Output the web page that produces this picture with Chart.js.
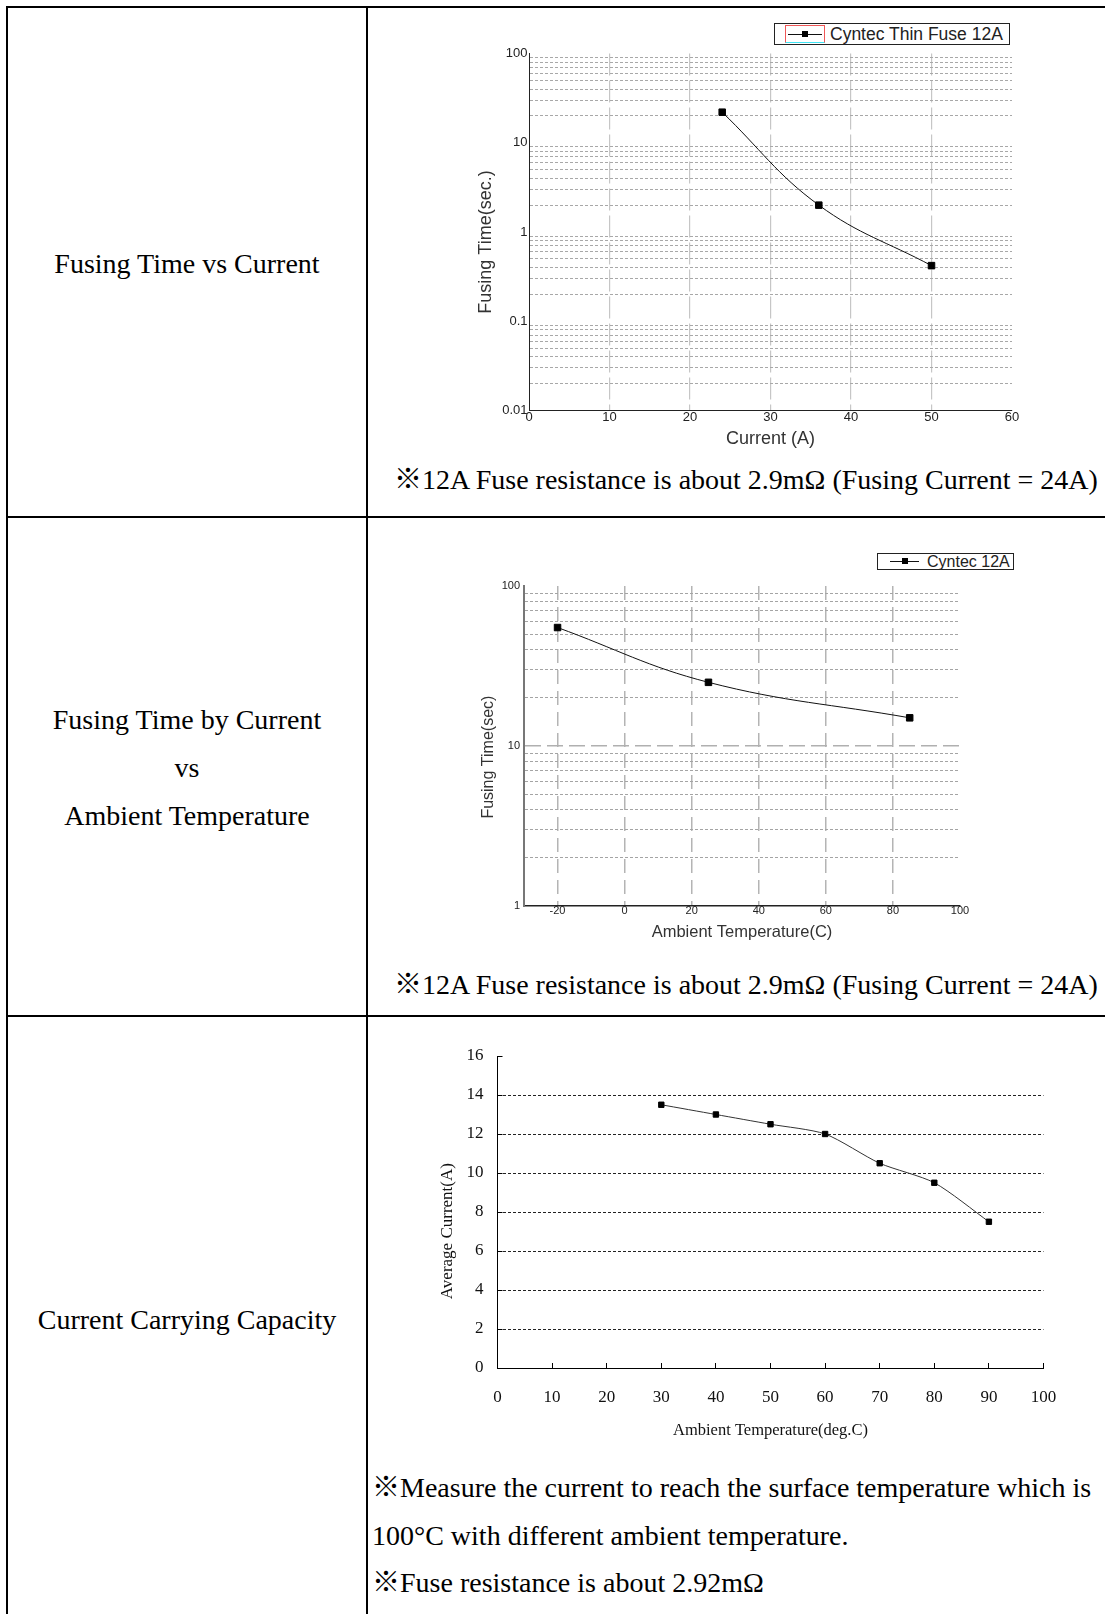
<!DOCTYPE html>
<html>
<head>
<meta charset="utf-8">
<title>Fuse characteristics</title>
<script src="https://cdn.jsdelivr.net/npm/chart.js@4.4.1/dist/chart.umd.min.js"></script>
<style>
  html, body { margin: 0; padding: 0; background: #fff; }
  body {
    width: 1105px; height: 1614px; position: relative; overflow: hidden;
    font-family: "Liberation Serif", "Noto Sans CJK TC", serif; color: #000;
  }
  .rule { position: absolute; background: #000; }
  .cap { position: absolute; font-size: 28px; line-height: 48px; white-space: nowrap; }
  .left { left: 8px; width: 358px; text-align: center; }
  .plot { position: absolute; }
  .legend {
    position: absolute; box-sizing: border-box; border: 1px solid #222; background: #fff;
    font-family: "Liberation Sans", Arial, sans-serif; color: #222; white-space: nowrap;
  }
  .legend .sym { position: absolute; }
  .legend .sym i { position: absolute; left: 0; right: 0; height: 1px; background: #111; }
  .legend .sym b { position: absolute; width: 6px; height: 6px; background: #000; }
  .legend span.txt { position: absolute; top: 0; }
</style>
</head>
<body>

<!-- table rules -->
<div class="rule" style="left:6px; top:6px; width:1099px; height:2px;"></div>
<div class="rule" style="left:6px; top:6px; width:2px; height:1608px;"></div>
<div class="rule" style="left:366px; top:6px; width:2px; height:1608px;"></div>
<div class="rule" style="left:6px; top:516px; width:1099px; height:2px;"></div>
<div class="rule" style="left:6px; top:1015px; width:1099px; height:2px;"></div>

<!-- left column -->
<div class="cap left" style="top:240px;">Fusing Time vs Current</div>
<div class="cap left" style="top:696px; line-height:47.8px;">Fusing Time by Current<br>vs<br>Ambient Temperature</div>
<div class="cap left" style="top:1296px;">Current Carrying Capacity</div>

<!-- notes -->
<div class="cap" style="left:394px; top:456px;">※12A Fuse resistance is about 2.9mΩ (Fusing Current = 24A)</div>
<div class="cap" style="left:394px; top:961px;">※12A Fuse resistance is about 2.9mΩ (Fusing Current = 24A)</div>
<div class="cap" style="left:372px; top:1464px; line-height:47.7px;">※Measure the current to reach the surface temperature which is<br>100°C with different ambient temperature.<br>※Fuse resistance is about 2.92mΩ</div>

<!-- charts -->
<div class="plot" style="left:450px; top:15px; width:580px; height:435px;"><canvas id="fuseChart"></canvas></div>
<div class="plot" style="left:450px; top:560px; width:530px; height:382px;"><canvas id="ambientChart"></canvas></div>
<div class="plot" style="left:425px; top:1040px; width:635px; height:401px;"><canvas id="capacityChart"></canvas></div>

<!-- legends -->
<div class="legend" style="left:774px; top:23px; width:236px; height:22px; font-size:17.5px;">
  <div class="sym" style="left:10px; top:1px; width:40px; height:18px; box-sizing:border-box; border:1px solid #f05858; border-bottom-color:#40e4f4;">
    <i style="left:2px; right:2px; top:8px;"></i><b style="left:16px; top:5px;"></b>
  </div>
  <span class="txt" style="left:55px; line-height:20px;">Cyntec Thin Fuse 12A</span>
</div>
<div class="legend" style="left:877px; top:553px; width:137px; height:17px; font-size:16px;">
  <div class="sym" style="left:12px; top:0; width:29px; height:15px;">
    <i style="top:7px;"></i><b style="left:12px; top:4px;"></b>
  </div>
  <span class="txt" style="left:49px; line-height:15px;">Cyntec 12A</span>
</div>

<script>
// Fusing time vs current (12A thin fuse)
const fuseCurrent = [24, 36, 50];
const fuseTime = [22, 2.0, 0.42];
const currentTicks = [0, 10, 20, 30, 40, 50, 60];
const timeTicks1 = [0.01, 0.1, 1, 10, 100];

// Fusing time vs ambient temperature
const ambientTemp = [-20, 25, 85];
const ambientFuseTime = [55, 25, 15];
const ambientTicks = [-20, 0, 20, 40, 60, 80, 100];
const timeTicks2 = [1, 10, 100];

// Current carrying capacity
const capTemp = [30, 40, 50, 60, 70, 80, 90];
const capCurrent = [13.5, 13, 12.5, 12, 10.5, 9.5, 7.5];
const capTempTicks = [0, 10, 20, 30, 40, 50, 60, 70, 80, 90, 100];
const capCurrentTicks = [0, 2, 4, 6, 8, 10, 12, 14, 16];

const SANS = "'Liberation Sans', Arial, sans-serif";
const SERIF = "'Liberation Serif', 'Times New Roman', serif";
const NONE = 'rgba(0,0,0,0)';

Chart.defaults.font.family = SANS;
Chart.defaults.animation = false;

// 1..9 steps inside every decade, for the log grid
function logGrid(majors) {
    const out = [];
    for (let i = 0; i < majors.length - 1; i++) {
        out.push(majors[i]);
        for (let k = 2; k <= 9; k++) out.push(+(majors[i] * k).toPrecision(6));
    }
    out.push(majors[majors.length - 1]);
    return out;
}

function points(xs, ys) {
    return xs.map((x, i) => ({ x: x, y: ys[i] }));
}

function setTicks(list) {
    return scale => { scale.ticks = list.map(v => ({ value: v })); };
}

// fixed axis box, and no extra room asked for the end labels
function fixX(h) {
    return s => { s.height = h; s.paddingLeft = 0; s.paddingRight = 0; };
}
function fixY(w) {
    return s => { s.width = w; s.paddingTop = 0; s.paddingBottom = 0; };
}

// the y titles in the original sit a little below the middle of the axis;
// trailing spaces push the centred text down
function lowered(text, n) {
    return text + ' '.repeat(n);
}

const baseOpts = {
    responsive: true,
    maintainAspectRatio: false,
    plugins: { legend: { display: false }, tooltip: { enabled: false } }
};

// chart 1
new Chart(document.getElementById('fuseChart'), {
    type: 'line',
    data: {
        datasets: [{
            label: 'Cyntec Thin Fuse 12A',
            data: points(fuseCurrent, fuseTime),
            borderColor: '#111', borderWidth: 1, tension: 0.4,
            pointStyle: 'rect', pointRadius: 4.6,
            pointBackgroundColor: '#000', pointBorderColor: '#000', pointBorderWidth: 1
        }]
    },
    options: Object.assign({}, baseOpts, {
        layout: { padding: { top: 38.5, right: 18, left: 0, bottom: 0 } },
        scales: {
            x: {
                type: 'linear', min: 0, max: 60,
                afterBuildTicks: setTicks(currentTicks),
                afterFit: fixX(39.5),
                grid: {
                    drawTicks: false, lineWidth: 1.2,
                    color: c => (c.tick && c.tick.value > 0 && c.tick.value < 60) ? '#c6c6c6' : NONE
                },
                border: { color: '#222', width: 1, dash: [22, 5] },
                ticks: { padding: -1, autoSkip: false, maxRotation: 0, color: '#222', font: { size: 13 } },
                title: { display: true, text: 'Current (A)', color: '#333', font: { size: 18 }, padding: 0 }
            },
            y: {
                type: 'logarithmic', min: 0.01, max: 100,
                afterBuildTicks: setTicks(logGrid(timeTicks1)),
                afterFit: fixY(79),
                grid: {
                    drawTicks: false, lineWidth: 1,
                    color: c => (c.tick && !timeTicks1.includes(c.tick.value)) ? '#a8a8a8' : NONE
                },
                border: { color: '#222', width: 1, dash: [3, 2] },
                ticks: {
                    padding: 1.5, autoSkip: false, color: '#222', font: { size: 13 },
                    callback: v => timeTicks1.includes(v) ? String(v) : ''
                },
                title: { display: true, text: lowered('Fusing Time(sec.)', 4), color: '#333', font: { size: 18 }, padding: { top: 25, bottom: 0 } }
            }
        }
    })
});

// chart 2
new Chart(document.getElementById('ambientChart'), {
    type: 'line',
    data: {
        datasets: [{
            label: 'Cyntec 12A',
            data: points(ambientTemp, ambientFuseTime),
            borderColor: '#111', borderWidth: 1, tension: 0.4,
            pointStyle: 'rect', pointRadius: 4.6,
            pointBackgroundColor: '#000', pointBorderColor: '#000', pointBorderWidth: 1
        }]
    },
    options: Object.assign({}, baseOpts, {
        layout: { padding: { top: 26, right: 20, left: 0, bottom: 0 } },
        scales: {
            x: {
                type: 'linear', min: -30, max: 100,
                afterBuildTicks: setTicks(ambientTicks),
                afterFit: fixX(36),
                grid: {
                    drawTicks: false, lineWidth: 1.5,
                    color: c => (c.tick && c.tick.value < 100) ? '#b4b4b4' : NONE
                },
                border: { color: '#222', width: 1.5, dash: [14, 7] },
                // labels touch the axis line here, mirror keeps them from being clipped
                ticks: { mirror: true, padding: -12, autoSkip: false, maxRotation: 0, color: '#222', font: { size: 11 }, callback: v => String(v) },
                title: { display: true, text: 'Ambient Temperature(C)', color: '#333', font: { size: 16.5 }, padding: 0 }
            },
            y: {
                type: 'logarithmic', min: 1, max: 100,
                afterBuildTicks: setTicks(logGrid(timeTicks2)),
                afterFit: fixY(74),
                grid: {
                    drawTicks: false,
                    lineWidth: c => (c.tick && c.tick.value === 10) ? 1.5 : 1,
                    color: c => {
                        if (!c.tick || c.tick.value === 1 || c.tick.value === 100) return NONE;
                        return c.tick.value === 10 ? '#b0b0b0' : '#a4a4a4';
                    }
                },
                border: {
                    color: '#777', width: 2,
                    dash: c => (c.tick && c.tick.value === 10) ? [16, 6] : [3, 2]
                },
                ticks: {
                    padding: 4, autoSkip: false, color: '#222', font: { size: 11 },
                    callback: v => timeTicks2.includes(v) ? String(v) : ''
                },
                title: { display: true, text: lowered('Fusing Time(sec)', 5), color: '#333', font: { size: 16 }, padding: { top: 29.4, bottom: 0 } }
            }
        }
    })
});

// chart 3
new Chart(document.getElementById('capacityChart'), {
    type: 'line',
    data: {
        datasets: [{
            label: 'Average Current',
            data: points(capTemp, capCurrent),
            borderColor: '#333', borderWidth: 1, tension: 0.25,
            pointStyle: 'rect', pointRadius: 3.8,
            pointBackgroundColor: '#000', pointBorderColor: '#000', pointBorderWidth: 1
        }]
    },
    options: Object.assign({}, baseOpts, {
        layout: { padding: { top: 16, right: 16.5, left: 0, bottom: 0 } },
        scales: {
            x: {
                type: 'linear', min: 0, max: 100,
                afterBuildTicks: setTicks(capTempTicks),
                afterFit: fixX(73),
                grid: { drawOnChartArea: false, drawTicks: true, tickLength: -5, tickColor: '#000', tickWidth: 1 },
                border: { color: '#000', width: 1 },
                ticks: { padding: 24.2, autoSkip: false, maxRotation: 0, color: '#111', font: { family: SERIF, size: 17 } },
                title: { display: true, text: 'Ambient Temperature(deg.C)', color: '#111', font: { family: SERIF, size: 16.5 }, padding: 0 }
            },
            y: {
                type: 'linear', min: 0, max: 16,
                afterBuildTicks: setTicks(capCurrentTicks),
                afterFit: fixY(72.5),
                grid: {
                    drawTicks: true, tickLength: -5, tickColor: '#000', tickWidth: 1, lineWidth: 1,
                    color: c => (c.tick && c.tick.value > 0 && c.tick.value < 16) ? '#222' : NONE
                },
                border: { color: '#000', width: 1, dash: [3, 2] },
                ticks: { padding: 19.1, autoSkip: false, color: '#111', font: { family: SERIF, size: 17 } },
                title: { display: true, text: lowered('Average Current(A)', 9), color: '#111', font: { family: SERIF, size: 17 }, padding: { top: 12.8, bottom: 0 } }
            }
        }
    })
});
</script>
</body>
</html>
